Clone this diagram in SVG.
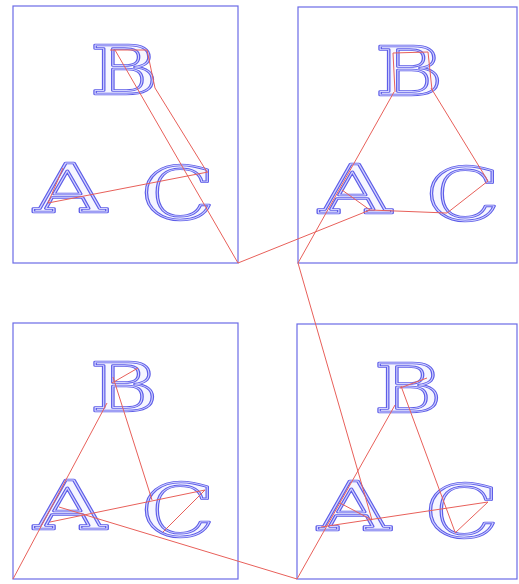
<svg xmlns="http://www.w3.org/2000/svg" xmlns:xlink="http://www.w3.org/1999/xlink" width="519" height="584" viewBox="0 0 519 584">
<style>
.box{fill:none;stroke:#6b6be6;stroke-width:1.2}
.go{font-family:"DejaVu Serif",serif;fill:#f6f6ff;stroke:#5e5ee8;stroke-width:2.6;stroke-linejoin:round}
.gi{font-family:"DejaVu Serif",serif;fill:none;stroke:#d4d4ff;stroke-width:0.8;stroke-linejoin:round}
.r{fill:none;stroke:#e8605a;stroke-width:1}
</style>
<defs>
<g id="abc">
<text class="go" x="77" y="88" font-size="67" textLength="68" lengthAdjust="spacingAndGlyphs">B</text>
<text class="gi" x="77" y="88" font-size="67" textLength="68" lengthAdjust="spacingAndGlyphs">B</text>
<text class="go" x="21" y="206" font-size="67" textLength="72" lengthAdjust="spacingAndGlyphs">A</text>
<text class="gi" x="21" y="206" font-size="67" textLength="72" lengthAdjust="spacingAndGlyphs">A</text>
<text class="go" x="128" y="214" font-size="72" textLength="74" lengthAdjust="spacingAndGlyphs">C</text>
<text class="gi" x="128" y="214" font-size="72" textLength="74" lengthAdjust="spacingAndGlyphs">C</text>
</g>
</defs>
<g id="panel1">
<rect class="box" x="13" y="6" width="225" height="257"/>
<use xlink:href="#abc" transform="translate(13,6)"/>
</g>
<g id="panel2">
<rect class="box" x="298" y="7" width="219" height="256"/>
<use xlink:href="#abc" transform="translate(298,7)"/>
</g>
<g id="panel3">
<rect class="box" x="13" y="323" width="225" height="256"/>
<use xlink:href="#abc" transform="translate(13,323)"/>
</g>
<g id="panel4">
<rect class="box" x="297" y="324" width="220" height="255"/>
<use xlink:href="#abc" transform="translate(297,324)"/>
</g>
<g id="connectors">
<path class="r" d="M115,50 L238,263 M155,88 L207,172 M48,203 L208,172 M48,203 L63,168 M110,50 L147,50 L155,88"/>
<path class="r" d="M238,263 L370,210"/>
<path class="r" d="M298,263 L394,92 M431,88 L488,181 L447,213 L370,210 L342,190 M393,53 L395,92 M428,52 L432,90 M393,53 L428,52"/>
<path class="r" d="M298,263 L372,520"/>
<path class="r" d="M13,579 L107,403 M113,377 L152,500 M50,522 L205,490 L163,532 M59,507 L297,579 M112,383 L138,368"/>
<path class="r" d="M297,579 L395,405 M401,386 L455,532 M321,527 L488,502 L455,533 M340,503 L372,520 M400,388 L427,378"/>
</g>
</svg>
